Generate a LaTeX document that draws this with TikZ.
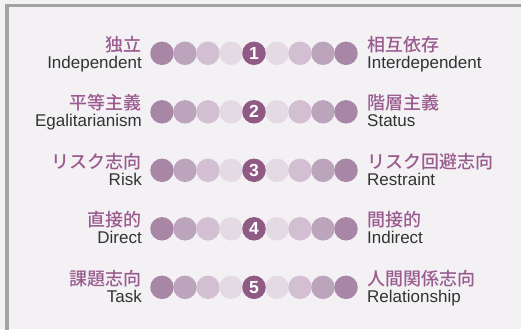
\documentclass[tikz,border=0pt]{standalone}
\usepackage{fontspec}
\setmainfont{Liberation Sans}
\newfontfamily\cjk{Noto Sans CJK JP}[UprightFont={* Medium}]
\definecolor{panelbg}{HTML}{F3F1F4}
\definecolor{framegray}{HTML}{A3A3A3}
\definecolor{jpurple}{HTML}{9A5B8E}
\definecolor{entext}{HTML}{333333}
\definecolor{dotA}{HTML}{A887A6}
\definecolor{dotB}{HTML}{BDA4BD}
\definecolor{dotC}{HTML}{D2C0D2}
\definecolor{dotD}{HTML}{E4DAE4}
\definecolor{dotmid}{HTML}{8F5A84}
\begin{document}
\begin{tikzpicture}[x=1pt, y=-1pt,
    dot/.style={circle, minimum size=23.5pt, inner sep=0pt, fill=#1},
    numdot/.style={dot=dotmid, text=white, font=\bfseries\fontsize{17.5}{17.5}\selectfont},
    jlabel/.style={inner sep=0pt, text=jpurple, font=\cjk\fontsize{18}{18}\selectfont},
    elabel/.style={inner sep=0pt, text=entext, font=\fontsize{17}{17}\selectfont}]
    % Background and frame
    \fill[panelbg] (0,0) rectangle (521,329);
    \useasboundingbox (0,0) rectangle (521,329);
    \draw[framegray, line width=3.5pt] (7,340) -- (7,5.5) -- (530,5.5);

    % Rows
    \foreach \i/\jl/\el/\jr/\er in {1/独立/Independent/相互依存/Interdependent,
        2/平等主義/Egalitarianism/階層主義/Status,
        3/リスク志向/Risk/リスク回避志向/Restraint,
        4/直接的/Direct/間接的/Indirect,
        5/課題志向/Task/人間関係志向/Relationship}{
        \pgfmathsetmacro{\y}{53.3+(\i-1)*58.5}
        % Dots
        \node (d\i-1) [dot=dotA] at (162,\y) {};
        \node (d\i-2) [dot=dotB] at (185,\y) {};
        \node (d\i-3) [dot=dotC] at (208,\y) {};
        \node (d\i-4) [dot=dotD] at (231,\y) {};
        \node (d\i-6) [dot=dotD] at (277,\y) {};
        \node (d\i-7) [dot=dotC] at (300,\y) {};
        \node (d\i-8) [dot=dotB] at (323,\y) {};
        \node (d\i-9) [dot=dotA] at (346,\y) {};
        \node (d\i-5) [numdot] at (254,\y) {\i};
        % Labels
        \node (jl\i) [jlabel, anchor=base east] at (142,\y-2) {\jl};
        \node (el\i) [elabel, anchor=base east] at (142,\y+15) {\el};
        \node (jr\i) [jlabel, anchor=base west] at (367,\y-2) {\jr};
        \node (er\i) [elabel, anchor=base west] at (367,\y+15) {\er};
    }
\end{tikzpicture}
\end{document}
